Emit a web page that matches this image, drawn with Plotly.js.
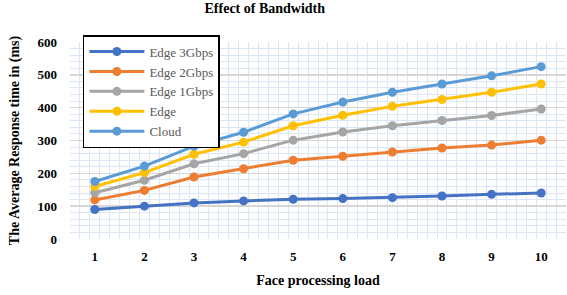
<!DOCTYPE html>
<html>
<head>
<meta charset="utf-8">
<script src="https://cdn.plot.ly/plotly-3.0.1.min.js"></script>
<style>html,body{margin:0;padding:0;background:#fff;}#chart{width:567px;height:295px;}</style>
</head>
<body>
<div id="chart"></div>
<script>
var load = [1, 2, 3, 4, 5, 6, 7, 8, 9, 10];
var edge3Gbps = [90, 100, 110, 116, 121, 123, 126, 131, 136, 140];
var edge2Gbps = [119, 148, 189, 214, 240, 252, 265, 277, 286, 301];
var edge1Gbps = [141, 179, 229, 260, 301, 326, 345, 361, 376, 396];
var edgeOnly = [160, 202, 258, 295, 345, 377, 404, 425, 447, 472];
var cloud = [175, 222, 283, 325, 381, 417, 447, 472, 497, 525];
var seriesNames = ['Edge 3Gbps', 'Edge 2Gbps', 'Edge 1Gbps', 'Edge', 'Cloud'];
var seriesColors = ['#4472C4', '#ED7D31', '#A5A5A5', '#FFC000', '#5B9BD5'];
var seriesValues = [edge3Gbps, edge2Gbps, edge1Gbps, edgeOnly, cloud];

var traces = seriesValues.map(function (vals, i) {
  return {
    x: load, y: vals, name: seriesNames[i], type: 'scatter', mode: 'lines+markers',
    line: {color: seriesColors[i], width: 3},
    marker: {color: seriesColors[i], size: 9}
  };
});

var serif = 'Liberation Serif, Times New Roman, serif';
var layout = {
  width: 567, height: 295,
  margin: {l: 70, r: 1, t: 42, b: 56},
  paper_bgcolor: '#ffffff', plot_bgcolor: '#ffffff',
  title: {text: '<b>Effect of Bandwidth</b>', font: {family: serif, size: 14, color: '#000'}, x: 0.467, xanchor: 'center', y: 0.99, yanchor: 'top'},
  xaxis: {
    range: [0.5, 10.5], tickmode: 'linear', tick0: 1, dtick: 1,
    showgrid: false, zeroline: false, showline: false, ticks: '',
    tickfont: {family: serif, size: 13, color: '#000', weight: 'bold'},
    ticklabelstandoff: 8,
    minor: {tick0: 0.5, dtick: 0.2, showgrid: true, gridcolor: '#dde6f5', gridwidth: 1, ticks: ''},
    title: {text: '<b>Face processing load</b>', font: {family: serif, size: 14, color: '#000'}, standoff: 12}
  },
  yaxis: {
    range: [0, 600], tickmode: 'linear', tick0: 0, dtick: 100,
    showgrid: true, gridcolor: '#d6d6d6', gridwidth: 1.5, zeroline: false, showline: false, ticks: '',
    tickfont: {family: serif, size: 13, color: '#000', weight: 'bold'},
    ticklabelstandoff: 12,
    minor: {dtick: 20, showgrid: true, gridcolor: '#dde6f5', gridwidth: 1, ticks: ''},
    title: {text: '<b>The Average Response time in (ms)</b>', font: {family: serif, size: 14, color: '#000'}, standoff: 14}
  },
  legend: {
    x: 0.026, y: 1.035, xanchor: 'left', yanchor: 'top',
    bgcolor: '#ffffff', bordercolor: '#000000', borderwidth: 1.5,
    font: {family: serif, size: 13, color: '#595959'},
    itemwidth: 55,
    tracegroupgap: 0
  },
  showlegend: true
};

Plotly.newPlot('chart', traces, layout, {displayModeBar: false, staticPlot: true});
</script>
</body>
</html>
